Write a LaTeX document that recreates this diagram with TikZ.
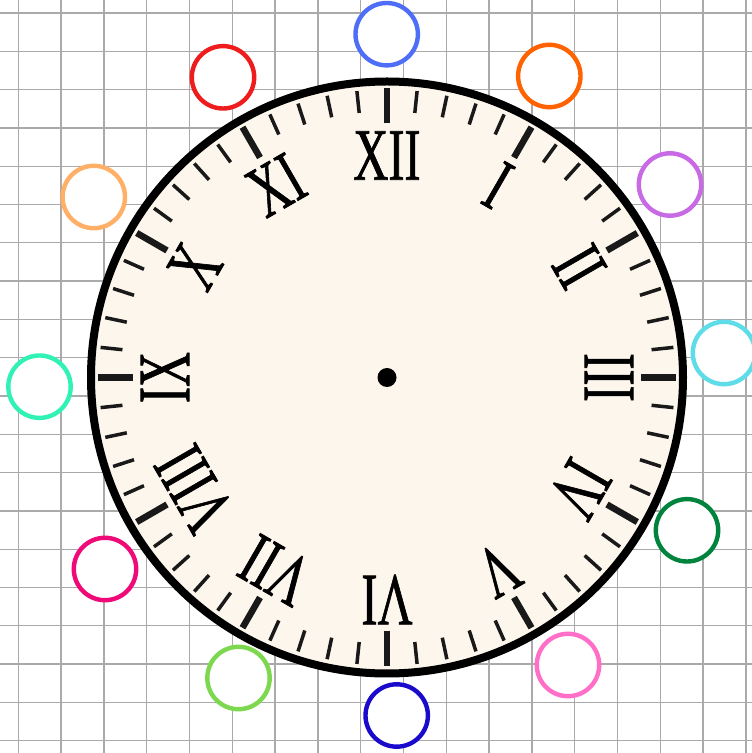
\documentclass[tikz,border=0pt]{standalone}
\usepackage{fontspec}
\setmainfont{Liberation Serif}
\newfontfamily\numfont{Liberation Serif}[FakeBold=1.2]
\definecolor{face}{HTML}{FDF6ED}
\definecolor{gridc}{HTML}{AAAAAA}
\definecolor{cBlueA}{HTML}{4F6EF7}
\definecolor{cRed}{HTML}{EE1C1C}
\definecolor{cOrange}{HTML}{FF6200}
\definecolor{cPeach}{HTML}{FFB066}
\definecolor{cPurple}{HTML}{C86AE5}
\definecolor{cMint}{HTML}{30F2B4}
\definecolor{cCyan}{HTML}{5EDCE8}
\definecolor{cDGreen}{HTML}{00843D}
\definecolor{cDPink}{HTML}{F00A78}
\definecolor{cLPink}{HTML}{FF6FC8}
\definecolor{cLGreen}{HTML}{7DD84F}
\definecolor{cDBlue}{HTML}{1A0ACB}
\tikzset{
  gridline/.style={draw=gridc, line width=1.3},
  minortick/.style={line width=3.5, black!90},
  majortick/.style={line width=6.5, black!90},
  numeral/.style={font=\numfont\fontsize{74}{80}\selectfont, inner sep=0pt, anchor=center},
  ring/.style={line width=4.4, fill=white}
}
\begin{document}
\begin{tikzpicture}[x=1pt,y=1pt]
\useasboundingbox (0,0) rectangle (752,753);
\fill[white] (0,0) rectangle (752,753);
% grid
\foreach \k in {0,...,17} \draw[gridline] ({18.3+42.8*\k},0) -- ({18.3+42.8*\k},753);
\foreach \k in {0,...,19} \draw[gridline] (0,{753-(13+38.3*\k)}) -- (752,{753-(13+38.3*\k)});
% clock face
\coordinate (C) at (387,375.5);
\draw[line width=8, fill=face] (C) circle (296);
\begin{scope}[shift={(387,375.5)}]
  \foreach \i in {0,...,59} \draw[minortick] ({90-6*\i}:266) -- ({90-6*\i}:288);
  \foreach \h in {1,...,12} \draw[majortick] ({90-30*\h}:254) -- ({90-30*\h}:289);
  \foreach \h/\t in {1/I,2/II,3/III,4/IV,5/V,6/VI,7/VII,8/VIII,9/IX,10/X,11/XI,12/XII}
    \node[numeral, rotate={-30*\h}, xscale=0.655] (n\h) at ({90-30*\h}:222) {\t};
\end{scope}
\fill (C) circle (9.5);
% coloured rings
\draw[ring, draw=cBlueA]  (386.7,{753-34.2}) circle (31.2);
\draw[ring, draw=cRed]    (223,{753-77.3}) circle (31.2);
\draw[ring, draw=cOrange] (549.3,{753-76}) circle (31.2);
\draw[ring, draw=cPeach]  (93.8,{753-197}) circle (31.2);
\draw[ring, draw=cPurple] (670,{753-184.5}) circle (31.2);
\draw[ring, draw=cMint]   (39.5,{753-386.7}) circle (31.2);
\draw[ring, draw=cCyan]   (724,{753-353}) circle (31.2);
\draw[ring, draw=cDGreen] (687,{753-530.3}) circle (31.2);
\draw[ring, draw=cDPink]  (105,{753-569}) circle (31.2);
\draw[ring, draw=cLPink]  (568,{753-665}) circle (31.2);
\draw[ring, draw=cLGreen] (238.5,{753-678}) circle (31.2);
\draw[ring, draw=cDBlue]  (396.7,{753-715.5}) circle (31.2);
\end{tikzpicture}
\end{document}
